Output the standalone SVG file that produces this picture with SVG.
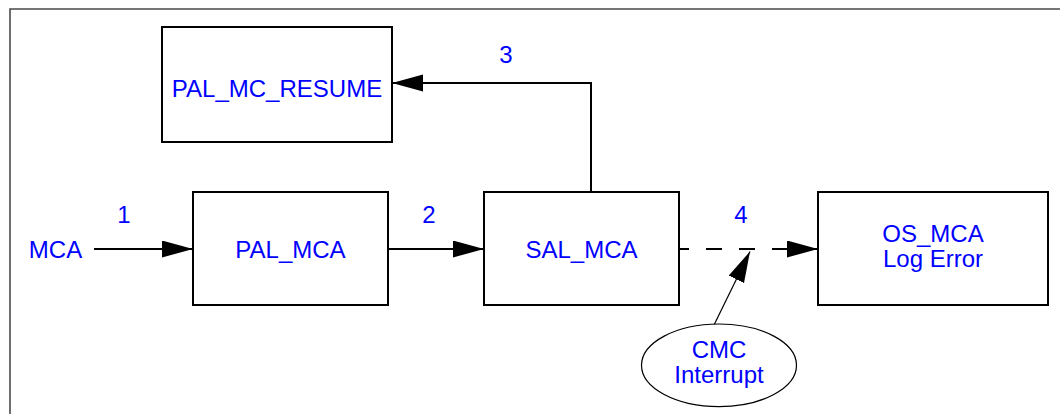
<svg xmlns="http://www.w3.org/2000/svg" width="1060" height="414" viewBox="0 0 1060 414">
<style>
  .box { fill: #ffffff; stroke: #000000; stroke-width: 2; }
  .lbl { font-family: "Liberation Sans", Arial, Helvetica, sans-serif; font-size: 24px; fill: #0000ff; text-anchor: middle; }
  .conn { fill: none; stroke: #000000; stroke-width: 2; }
  .thin { fill: none; stroke: #000000; stroke-width: 1.2; }
  .dash { stroke-dasharray: 16 17; stroke-dashoffset: 6; }
  .frame { stroke: #4a4a4a; stroke-width: 1.6; fill: none; }
</style>
<defs>
  <marker id="arrow" markerUnits="userSpaceOnUse" markerWidth="32" markerHeight="18" refX="31" refY="8.5" orient="auto">
    <path d="M0,0 L31,8.5 L0,17 z" fill="#000000"/>
  </marker>
</defs>
<rect width="1060" height="414" fill="#ffffff"/>
<g id="frame">
  <path class="frame" d="M10,414 L10,9 L1060,9"/>
</g>
<g id="connectors">
  <line class="conn" x1="94" y1="249" x2="193" y2="249" marker-end="url(#arrow)"/>
  <line class="conn" x1="388" y1="249" x2="484" y2="249" marker-end="url(#arrow)"/>
  <polyline class="conn" points="591,192 591,83 392,83" marker-end="url(#arrow)"/>
  <line class="conn dash" x1="679" y1="249" x2="818" y2="249" marker-end="url(#arrow)"/>
  <line class="thin" x1="714" y1="325" x2="750" y2="251.5" marker-end="url(#arrow)"/>
  <text class="lbl" x="124" y="222.7">1</text>
  <text class="lbl" x="429" y="222.7">2</text>
  <text class="lbl" x="506" y="63.3">3</text>
  <text class="lbl" x="741" y="222.7">4</text>
</g>
<g id="mca">
  <text class="lbl" x="55.5" y="257.7">MCA</text>
</g>
<g id="pal_mc_resume">
  <rect class="box" x="162" y="27" width="230" height="115"/>
  <text class="lbl" x="277" y="97">PAL_MC_RESUME</text>
</g>
<g id="pal_mca">
  <rect class="box" x="193" y="192" width="195" height="113"/>
  <text class="lbl" x="290.5" y="257.7">PAL_MCA</text>
</g>
<g id="sal_mca">
  <rect class="box" x="484" y="192" width="195" height="113"/>
  <text class="lbl" x="581.5" y="258">SAL_MCA</text>
</g>
<g id="os_mca">
  <rect class="box" x="818" y="192" width="230" height="113"/>
  <text class="lbl" x="933" y="242.3">OS_MCA</text>
  <text class="lbl" x="933" y="267.3">Log Error</text>
</g>
<g id="cmc_interrupt">
  <ellipse cx="719" cy="365.3" rx="77.5" ry="41.3" fill="#ffffff" stroke="#000000" stroke-width="1.2"/>
  <text class="lbl" x="719" y="358.3">CMC</text>
  <text class="lbl" x="719" y="382.7">Interrupt</text>
</g>
</svg>
